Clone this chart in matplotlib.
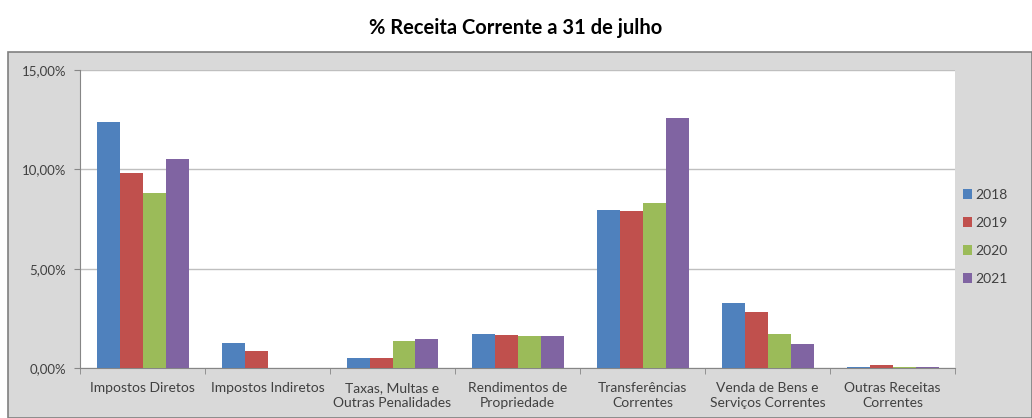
import numpy as np
import matplotlib
matplotlib.use("Agg")
import matplotlib.pyplot as plt
from matplotlib.patches import Rectangle

# --- dados ---
categorias = ["Impostos Diretos", "Impostos Indiretos", "Taxas, Multas e\nOutras Penalidades",
              "Rendimentos de\nPropriedade", "Transferências\nCorrentes",
              "Venda de Bens e\nServiços Correntes", "Outras Receitas\nCorrentes"]
anos = ["2018", "2019", "2020", "2021"]
v2018 = [12.40, 1.24, 0.50, 1.71, 7.97, 3.26, 0.05]
v2019 = [9.80, 0.87, 0.50, 1.64, 7.90, 2.84, 0.13]
v2020 = [8.82, 0.00, 1.37, 1.61, 8.30, 1.70, 0.05]
v2021 = [10.50, 0.00, 1.44, 1.61, 12.57, 1.20, 0.05]
cores = ["#4F81BD", "#C0504D", "#9BBB59", "#8064A2"]
yticks = [0, 5, 10, 15]

plt.rcParams["font.family"] = ["Lato", "DejaVu Sans"]

fig = plt.figure(figsize=(10.32, 4.18), dpi=100)
fig.patch.set_facecolor("white")

# painel cinzento do gráfico
painel = Rectangle((8 / 1032, 0), 1 - 8 / 1032, (418 - 52) / 418, transform=fig.transFigure,
                   facecolor="#D9D9D9", edgecolor="#808080", linewidth=1.2, zorder=-10)
fig.patches.append(painel)

fig.text(0.5, 1 - 28 / 418, "% Receita Corrente a 31 de julho", ha="center", va="center",
         fontsize=14.5, fontweight="bold", color="black")

ax = fig.add_axes([80 / 1032, 50 / 418, 875 / 1032, 298 / 418])
ax.set_facecolor("white")

x = np.arange(len(categorias))
largura = 0.184
series = [v2018, v2019, v2020, v2021]
for i, (vals, cor, ano) in enumerate(zip(series, cores, anos)):
    ax.bar(x + (i - 1.5) * largura, vals, largura, color=cor, label=ano, zorder=3)

ax.set_xlim(-0.5, len(categorias) - 0.5)
ax.set_ylim(0, 15)
ax.set_yticks(yticks)
ax.set_yticklabels([f"{t:.2f}".replace(".", ",") + "%" for t in yticks], fontsize=9.5, color="#404040")
ax.set_xticks(x)
ax.set_xticklabels(categorias, fontsize=10, color="#404040", linespacing=1.3)
ax.set_xticks(np.arange(len(categorias) + 1) - 0.5, minor=True)
ax.tick_params(axis="x", which="major", length=0, pad=10)
ax.tick_params(axis="x", which="minor", length=4, color="#868686")
ax.tick_params(axis="y", length=4, color="#868686", pad=6)
ax.grid(axis="y", color="#BFBFBF", linewidth=1, zorder=0)

for lado in ["top", "right"]:
    ax.spines[lado].set_visible(False)
for lado in ["left", "bottom"]:
    ax.spines[lado].set_color("#868686")

fig.legend(loc="center left", bbox_to_anchor=(950 / 1032, 1 - 237 / 418), frameon=False,
           fontsize=10, handlelength=0.7, handleheight=0.7, handletextpad=0.25,
           labelspacing=1.15, labelcolor="#404040")

fig.savefig("out.png", dpi=100)
